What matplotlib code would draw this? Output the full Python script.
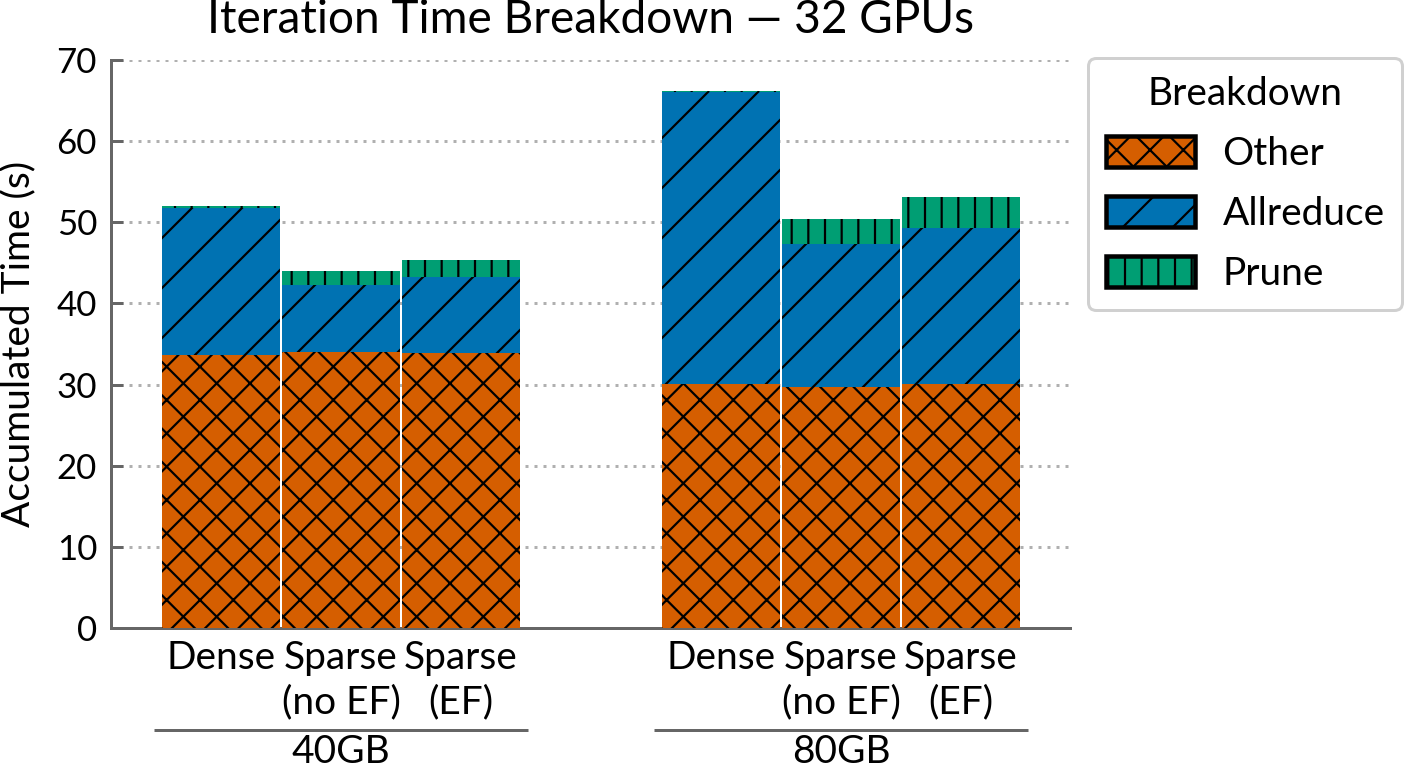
import matplotlib
matplotlib.use("Agg")
import matplotlib.pyplot as plt
import matplotlib.transforms as mtransforms
from matplotlib.patches import Patch
import numpy as np

# ---- data ----
groups = ["40GB", "80GB"]
methods = ["Dense", "Sparse\n(no EF)", "Sparse\n(EF)"]
other_40 = [33.6, 34.0, 33.9]
allreduce_40 = [18.2, 8.3, 9.4]
prune_40 = [0.15, 1.7, 2.1]
other_80 = [30.1, 29.7, 30.1]
allreduce_80 = [36.0, 17.6, 19.2]
prune_80 = [0.1, 3.1, 3.8]
series_names = ["Other", "Allreduce", "Prune"]
yticks = [0, 10, 20, 30, 40, 50, 60, 70]

colors = ["#D55E00", "#0072B2", "#009E73"]
hatches = ["xxxxxx", "////", "||||||"]

DPI = 600
PX = 72.0 / DPI  # points per pixel

plt.rcParams["font.family"] = ["Lato", "DejaVu Sans"]
plt.rcParams["hatch.linewidth"] = 2.2 * PX

fig = plt.figure(figsize=(1404 / DPI, 771 / DPI), dpi=DPI)
ax = fig.add_axes([111 / 1404, 1 - 628 / 771, (1070 - 111) / 1404, (628 - 60) / 771])

group_step = 500 / 120.0
bar_w = 0.985
values = {
    "40GB": (other_40, allreduce_40, prune_40),
    "80GB": (other_80, allreduce_80, prune_80),
}

fs = 39 * PX
fs_y = 35 * PX
xt, xl = [], []
for gi, g in enumerate(groups):
    oth, allr, prn = values[g]
    xs = gi * group_step + np.arange(len(methods)) - 1
    bottom = np.zeros(len(methods))
    for si, seg in enumerate([oth, allr, prn]):
        ax.bar(xs, seg, width=bar_w, bottom=bottom, color=colors[si],
               hatch=hatches[si], edgecolor="black", linewidth=0, zorder=3)
        bottom = bottom + np.array(seg)
    xt.extend(xs)
    xl.extend(methods)

ax.set_xticks(xt)
ax.set_xticklabels(xl, fontsize=fs, linespacing=1.3)
ax.tick_params(axis="x", length=0, pad=12 * PX)

ax.set_xlim((111 - 341) / 120.0, (1070 - 341) / 120.0)
ax.set_ylim(0, 70)
ax.set_yticks(yticks)
ax.set_yticklabels([str(v) for v in yticks], fontsize=fs_y)
ax.tick_params(axis="y", direction="in", length=12 * PX, width=3 * PX,
               color="#666666", pad=14 * PX)

for s in ["top", "right"]:
    ax.spines[s].set_visible(False)
for s in ["left", "bottom"]:
    ax.spines[s].set_color("#666666")
    ax.spines[s].set_linewidth(3 * PX)

ax.yaxis.grid(True, linestyle=(0, (1, 2)), color="#b0b0b0", linewidth=3 * PX, zorder=0)
ax.set_axisbelow(True)

ax.set_ylabel("Accumulated Time (s)", fontsize=fs)
ax.yaxis.set_label_coords(-0.078, 0.5)
ax.set_title("Iteration Time Breakdown \u2014 32 GPUs", fontsize=46 * PX, pad=27 * PX)

# group annotations
trans = mtransforms.blended_transform_factory(ax.transData, ax.transAxes)
for gi, g in enumerate(groups):
    c = gi * group_step
    ax.plot([c - 1.56, c + 1.56], [-0.1796, -0.1796], transform=trans, color="#666666",
            linewidth=3 * PX, clip_on=False, solid_capstyle="butt")
    ax.text(c, -0.2375, g, transform=trans, ha="center", va="baseline", fontsize=fs)

handles = [Patch(facecolor=colors[i], hatch=hatches[i], edgecolor="black",
                 linewidth=4.5 * PX, label=series_names[i]) for i in range(3)]
leg = fig.legend(handles=handles, title="Breakdown", loc="upper left",
                 bbox_to_anchor=(1088 / 1404, 1 - 58 / 771), borderaxespad=0,
                 fontsize=fs, title_fontsize=fs, handlelength=2.3, handleheight=0.85,
                 handletextpad=0.7, labelspacing=0.62, borderpad=0.45,
                 fancybox=True, framealpha=1)
leg.get_frame().set_edgecolor("#d0d0d0")
leg.get_frame().set_linewidth(3 * PX)

fig.savefig("out.png", dpi=DPI)
